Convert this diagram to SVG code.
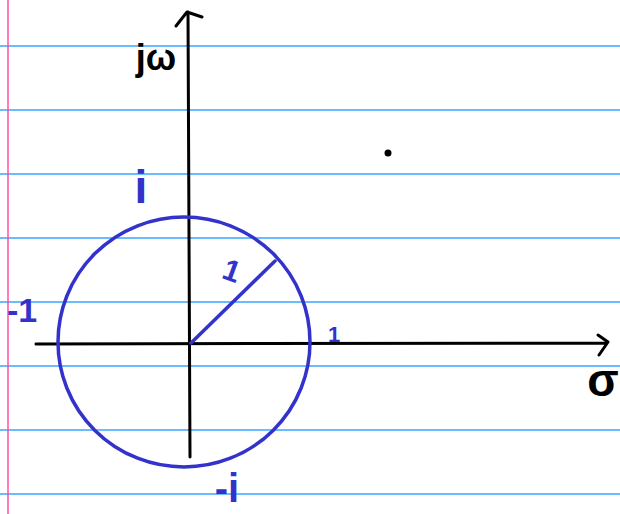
<svg xmlns="http://www.w3.org/2000/svg" width="620" height="514" viewBox="0 0 620 514">
<style>
.rule{stroke:#3aa6ff;stroke-width:1.5}
.ax{stroke:#000;stroke-width:3;fill:none;stroke-linecap:round;stroke-linejoin:round}
.bl{stroke:#3333cc;stroke-width:3.5;fill:none;stroke-linecap:round}
.tb{fill:#3333cc;font-family:"Liberation Sans",sans-serif}
.tk{fill:#000;font-family:"Liberation Sans",sans-serif}
</style>
<rect width="620" height="514" fill="#fff"/>
<g id="paper">
<line class="rule" x1="0" y1="46" x2="620" y2="46"/>
<line class="rule" x1="0" y1="110" x2="620" y2="110"/>
<line class="rule" x1="0" y1="174" x2="620" y2="174"/>
<line class="rule" x1="0" y1="238" x2="620" y2="238"/>
<line class="rule" x1="0" y1="302" x2="620" y2="302"/>
<line class="rule" x1="0" y1="366" x2="620" y2="366"/>
<line class="rule" x1="0" y1="430" x2="620" y2="430"/>
<line class="rule" x1="0" y1="494" x2="620" y2="494"/>
<line x1="8" y1="0" x2="8" y2="514" stroke="#ff4fa8" stroke-width="1.5"/>
</g>
<g id="axes">
<path class="ax" d="M190 457 L188 12 M176 26 L187 12 L202 17"/>
<path class="ax" d="M36 344 L607 343 M598 335 L608 342 L599 355"/>
</g>
<g id="circle">
<ellipse class="bl" cx="184" cy="342" rx="126" ry="125"/>
<line class="bl" x1="191" y1="343" x2="275" y2="261"/>
</g>
<circle cx="388" cy="153" r="3.5" fill="#000"/>
<g id="labels">
<text class="tk" x="156" y="70" font-size="36" font-weight="bold" text-anchor="middle">jω</text>
<text class="tk" x="603" y="396" font-size="46" font-weight="bold" text-anchor="middle">σ</text>
<text class="tb" x="141" y="203" font-size="46" font-weight="bold" text-anchor="middle">i</text>
<text class="tb" x="232" y="281" font-size="30" font-weight="bold" text-anchor="middle" transform="rotate(20 232 270)">1</text>
<text class="tb" x="22" y="322" font-size="34" font-weight="bold" text-anchor="middle">-1</text>
<text class="tb" x="334" y="342" font-size="22" font-weight="bold" text-anchor="middle">1</text>
<text class="tb" x="227" y="502" font-size="40" font-weight="bold" text-anchor="middle">-i</text>
</g>
</svg>
